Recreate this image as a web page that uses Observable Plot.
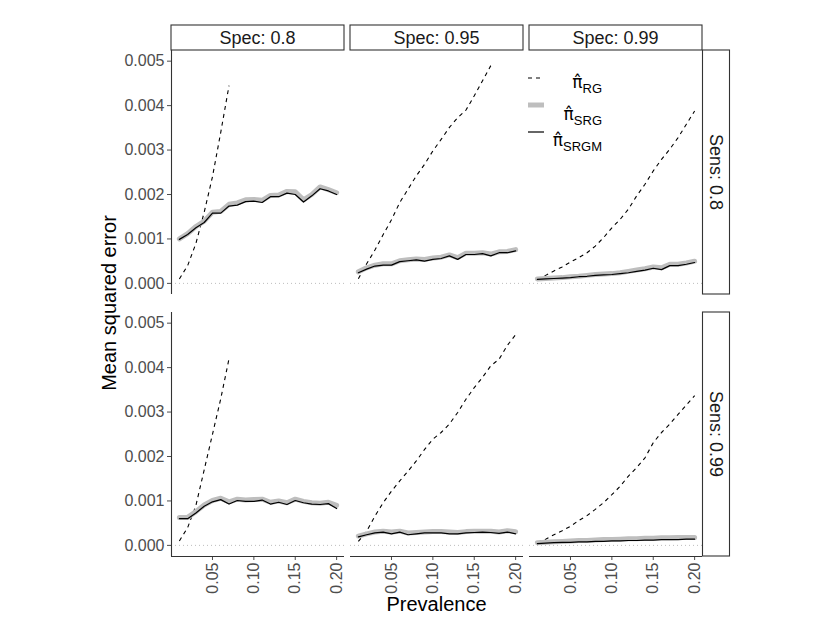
<!DOCTYPE html>
<html><head><meta charset="utf-8">
<script src="https://cdn.jsdelivr.net/npm/d3@7"></script>
<script src="https://cdn.jsdelivr.net/npm/@observablehq/plot@0.6"></script>
<style>
body{margin:0;background:#fff;}
#chart svg{overflow:visible;display:block;}
</style>
</head><body><div id="chart"></div>
<script>
// ---- data ----
const prevalence = [0.01,0.02,0.03,0.04,0.05,0.06,0.07,0.08,0.09,0.10,0.11,0.12,0.13,0.14,0.15,0.16,0.17,0.18,0.19,0.20];
const specLevels = ["0.8","0.95","0.99"];
const sensLevels = ["0.8","0.99"];
const yTicks = [0,0.001,0.002,0.003,0.004,0.005];
const xTicks = [0.05,0.10,0.15,0.20];

// Sens 0.8
const rg_sens80_spec80   = [0.0001,0.0004,0.0009,0.0016,0.0024,0.0034,0.00445];
const srg_sens80_spec80  = [0.00100,0.00112,0.00128,0.00140,0.00160,0.00162,0.00178,0.00181,0.00188,0.00189,0.00187,0.00198,0.00199,0.00207,0.00206,0.00188,0.00200,0.00217,0.00211,0.00204];
const srgm_sens80_spec80 = [0.00099,0.00110,0.00125,0.00137,0.00158,0.00158,0.00174,0.00176,0.00184,0.00185,0.00182,0.00195,0.00195,0.00203,0.00200,0.00183,0.00197,0.00213,0.00208,0.00200];

const rg_sens80_spec95   = [0.000105,0.00044,0.00075,0.00110,0.00143,0.00182,0.00212,0.00242,0.00268,0.00298,0.00324,0.00351,0.00373,0.00390,0.00422,0.00456,0.00490];
const srg_sens80_spec95  = [0.00026,0.00035,0.00041,0.00044,0.00044,0.00051,0.00053,0.00055,0.00054,0.00057,0.00059,0.00064,0.00058,0.00068,0.00068,0.00069,0.00066,0.00071,0.00072,0.00076];
const srgm_sens80_spec95 = [0.00024,0.00032,0.00039,0.00041,0.00041,0.00049,0.00051,0.00053,0.00050,0.00054,0.00056,0.00062,0.00054,0.00065,0.00065,0.00067,0.00062,0.00069,0.00069,0.00073];

const rg_sens80_spec99   = [0.00009,0.00018,0.00028,0.00037,0.00048,0.00058,0.00069,0.00084,0.00103,0.00125,0.00144,0.00167,0.00197,0.00223,0.00253,0.00279,0.00302,0.00328,0.00358,0.00388];
const srg_sens80_spec99  = [0.00010,0.00011,0.00012,0.00013,0.00015,0.00016,0.00018,0.00020,0.00021,0.00022,0.00024,0.00027,0.00030,0.00033,0.00037,0.00035,0.00043,0.00043,0.00046,0.00050];
const srgm_sens80_spec99 = [0.00009,0.00010,0.00011,0.00012,0.00013,0.00015,0.00016,0.00018,0.00019,0.00020,0.00022,0.00024,0.00027,0.00030,0.00034,0.00031,0.00040,0.00040,0.00043,0.00047];

// Sens 0.99
const rg_sens99_spec80   = [0.0001,0.0004,0.0009,0.0017,0.0025,0.0033,0.0042];
const srg_sens99_spec80  = [0.00063,0.00063,0.00076,0.00091,0.00101,0.00106,0.00098,0.00104,0.00102,0.00103,0.00104,0.00097,0.00100,0.00096,0.00104,0.00099,0.00096,0.00095,0.00097,0.00090];
const srgm_sens99_spec80 = [0.00060,0.00060,0.00073,0.00088,0.00098,0.00103,0.00093,0.00101,0.00099,0.00099,0.00102,0.00093,0.00097,0.00092,0.00101,0.00096,0.00093,0.00092,0.00094,0.00083];

const rg_sens99_spec95   = [0.00009,0.00032,0.00066,0.00096,0.00122,0.00145,0.00167,0.00190,0.00216,0.00239,0.00254,0.00273,0.00299,0.00329,0.00355,0.00378,0.00404,0.00419,0.00450,0.00474];
const srg_sens99_spec95  = [0.00021,0.00026,0.00030,0.00032,0.00030,0.00032,0.00028,0.00029,0.00030,0.00031,0.00031,0.00030,0.00029,0.00031,0.00032,0.00032,0.00032,0.00030,0.00033,0.00031];
const srgm_sens99_spec95 = [0.00019,0.00024,0.00028,0.00030,0.00026,0.00030,0.00024,0.00026,0.00028,0.00028,0.00028,0.00026,0.00026,0.00028,0.00029,0.00030,0.00029,0.00027,0.00030,0.00026];

const rg_sens99_spec99   = [0.00007,0.00014,0.00024,0.00033,0.00043,0.00056,0.00067,0.00081,0.00096,0.00114,0.00133,0.00156,0.00175,0.00197,0.00231,0.00254,0.00273,0.00295,0.00316,0.00337];
const srg_sens99_spec99  = [0.00006,0.00007,0.00008,0.00009,0.00010,0.00011,0.00011,0.00012,0.00013,0.00013,0.00014,0.00015,0.00015,0.00016,0.00016,0.00017,0.00017,0.00018,0.00018,0.00018];
const srgm_sens99_spec99 = [0.00004,0.00005,0.00006,0.00007,0.00007,0.00008,0.00008,0.00009,0.00009,0.00010,0.00010,0.00011,0.00011,0.00012,0.00012,0.00013,0.00013,0.00013,0.00014,0.00014];

// ---- table ----
const rows = [];
function add(sens, spec, est, values) {
  values.forEach((v, i) => rows.push({sens, spec, est, prev: prevalence[i], mse: v}));
}
add("0.8","0.8","RG",rg_sens80_spec80);   add("0.8","0.8","SRG",srg_sens80_spec80);   add("0.8","0.8","SRGM",srgm_sens80_spec80);
add("0.8","0.95","RG",rg_sens80_spec95);  add("0.8","0.95","SRG",srg_sens80_spec95);  add("0.8","0.95","SRGM",srgm_sens80_spec95);
add("0.8","0.99","RG",rg_sens80_spec99);  add("0.8","0.99","SRG",srg_sens80_spec99);  add("0.8","0.99","SRGM",srgm_sens80_spec99);
add("0.99","0.8","RG",rg_sens99_spec80);  add("0.99","0.8","SRG",srg_sens99_spec80);  add("0.99","0.8","SRGM",srgm_sens99_spec80);
add("0.99","0.95","RG",rg_sens99_spec95); add("0.99","0.95","SRG",srg_sens99_spec95); add("0.99","0.95","SRGM",srgm_sens99_spec95);
add("0.99","0.99","RG",rg_sens99_spec99); add("0.99","0.99","SRG",srg_sens99_spec99); add("0.99","0.99","SRGM",srgm_sens99_spec99);

const xDomain = [0.0005, 0.2095];
const yDomain = [-0.00025, 0.00524];
const FONT = "'Liberation Sans', Arial, Helvetica, sans-serif";

const plot = Plot.plot({
  width: 830, height: 642,
  marginLeft: 170, marginRight: 127.5, marginTop: 50, marginBottom: 85,
  style: {fontFamily: FONT, background: "white"},
  fx: {domain: specLevels, axis: null, paddingInner: 0.0334, paddingOuter: 0},
  fy: {domain: sensLevels, axis: null, paddingInner: 0.068, paddingOuter: 0},
  x: {domain: xDomain, axis: null},
  y: {domain: yDomain, axis: null},
  marks: [
    Plot.ruleY([0], {stroke: "#BDBDBD", strokeDasharray: "1,3", strokeWidth: 1}),
    Plot.line(rows.filter(d => d.est === "RG"), {x: "prev", y: "mse", fx: "spec", fy: "sens", stroke: "black", strokeWidth: 1.1, strokeDasharray: "4,4", strokeLinecap: "butt"}),
    Plot.line(rows.filter(d => d.est === "SRG"), {x: "prev", y: "mse", fx: "spec", fy: "sens", stroke: "#BEBEBE", strokeWidth: 5}),
    Plot.line(rows.filter(d => d.est === "SRGM"), {x: "prev", y: "mse", fx: "spec", fy: "sens", stroke: "black", strokeWidth: 1.2}),
    Plot.axisY({ticks: yTicks, tickFormat: d3.format(".3f"), tickSize: 4, tickPadding: 3, fontSize: 16, color: "#4D4D4D", label: null}),
    Plot.axisX({ticks: xTicks, tickFormat: d3.format(".2f"), tickRotate: -90, tickSize: 4, tickPadding: 2, fontSize: 16, color: "#4D4D4D", label: null}),
    Plot.ruleX([xDomain[0]], {facetAnchor: "left", stroke: "#333", strokeWidth: 1.1}),
    Plot.ruleY([yDomain[0]], {facetAnchor: "bottom", stroke: "#333", strokeWidth: 1.1})
  ]
});
document.getElementById("chart").appendChild(plot);

// ---- strips, titles, legend ----
const svg = d3.select(plot);
const fx = plot.scale("fx"), fy = plot.scale("fy");
const bwx = fx.bandwidth, bwy = fy.bandwidth;
const top0 = fy.apply(sensLevels[0]);
const rightEdge = fx.apply(specLevels[specLevels.length - 1]) + bwx;
const leftEdge = fx.apply(specLevels[0]);
const bottomEdge = fy.apply(sensLevels[sensLevels.length - 1]) + bwy;
const g = svg.append("g").attr("font-family", FONT);

specLevels.forEach(s => {
  const x0 = fx.apply(s);
  g.append("rect").attr("x", x0).attr("y", top0 - 25).attr("width", bwx).attr("height", 25)
    .attr("fill", "white").attr("stroke", "#333").attr("stroke-width", 1.1);
  g.append("text").attr("x", x0 + bwx / 2).attr("y", top0 - 12.5).attr("dy", "0.35em")
    .attr("text-anchor", "middle").attr("font-size", 18).attr("fill", "#1A1A1A").text("Spec: " + s);
});
sensLevels.forEach(s => {
  const y0 = fy.apply(s);
  g.append("rect").attr("x", rightEdge + 0.5).attr("y", y0).attr("width", 27).attr("height", bwy)
    .attr("fill", "white").attr("stroke", "#333").attr("stroke-width", 1.1);
  g.append("text").attr("transform", `translate(${rightEdge + 14},${y0 + bwy / 2}) rotate(90)`)
    .attr("dy", "0.35em").attr("text-anchor", "middle").attr("font-size", 18).attr("fill", "#1A1A1A").text("Sens: " + s);
});

g.append("text").attr("transform", `translate(116,${(top0 + bottomEdge) / 2}) rotate(-90)`)
  .attr("text-anchor", "middle").attr("font-size", 20).attr("fill", "black").text("Mean squared error");
g.append("text").attr("x", (leftEdge + rightEdge) / 2).attr("y", bottomEdge + 55)
  .attr("text-anchor", "middle").attr("font-size", 20).attr("fill", "black").text("Prevalence");

// legend
const legendLabels = [
  {sub: "RG", key: "dash", dyKey: 28, dyBase: 10},
  {sub: "SRG", key: "gray", dyKey: 55, dyBase: 15},
  {sub: "SRGM", key: "solid", dyKey: 82, dyBase: 14}
];
const lx = fx.apply(specLevels[2]) - 1;
const labelRight = lx + 74;
legendLabels.forEach(L => {
  const ky = top0 + L.dyKey;
  const ln = g.append("line").attr("x1", lx).attr("x2", lx + 16).attr("y1", ky).attr("y2", ky);
  if (L.key === "dash") ln.attr("stroke", "black").attr("stroke-width", 1.1).attr("stroke-dasharray", "4,4");
  else if (L.key === "gray") ln.attr("stroke", "#BEBEBE").attr("stroke-width", 5);
  else ln.attr("stroke", "black").attr("stroke-width", 1.2);
  const base = ky + L.dyBase;
  // pi with combining circumflex, then subscript
  const t = g.append("text").attr("x", labelRight).attr("y", base).attr("text-anchor", "end").attr("fill", "black");
  t.append("tspan").attr("font-size", 17).attr("font-family", "'DejaVu Sans', sans-serif").text("\u03C0\u0302");
  t.append("tspan").attr("font-size", 13).attr("dy", 4.5).text(L.sub);
});
</script>
</body></html>
